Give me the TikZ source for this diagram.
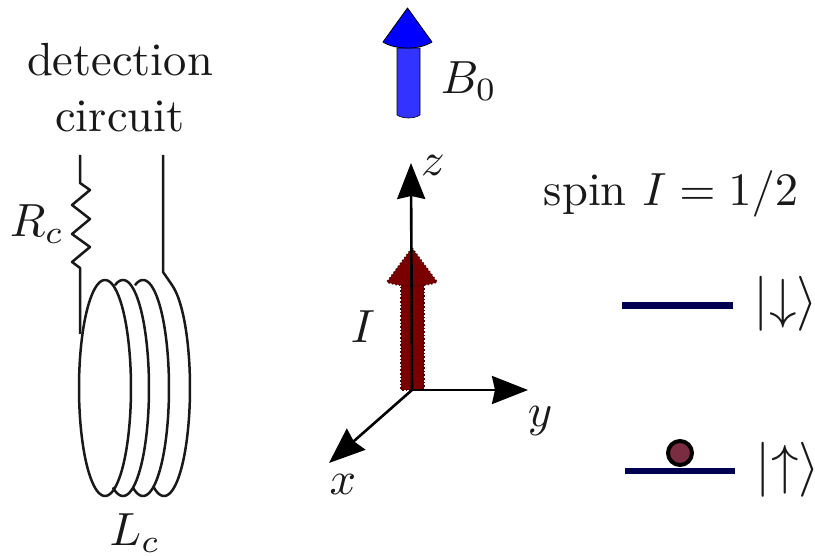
\documentclass[tikz,border=0pt]{standalone}
\usetikzlibrary{arrows.meta}
\definecolor{headblue}{RGB}{0,0,255}
\definecolor{shaftblue}{RGB}{51,51,255}
\definecolor{spinred}{RGB}{122,0,0}
\definecolor{levelnavy}{RGB}{0,0,80}
\definecolor{ballred}{RGB}{122,45,65}
\tikzset{
  lbl/.style={scale=4.65,inner sep=0pt,text=black!90},
  ket/.style={scale=5.5,inner sep=0pt,text=black!90},
  wire/.style={line width=2.5pt,black!90,line join=round},
  axis/.style={line width=2.6pt,black,-{Stealth[length=36pt,width=28pt,inset=3pt]}},
  level/.style={line width=6.5pt,levelnavy},
  spinarrow/.style={fill=spinred,draw=spinred!70!black,line width=1.6pt,dotted},
}
\begin{document}
\begin{tikzpicture}[x=1pt,y=-1pt]
\useasboundingbox (0,0) rectangle (815,556);
% labels
\node[lbl] (det) at (120,60) {detection};
\node[lbl] (cir) at (120,116) {circuit};
\node[lbl] (rc) at (37,224) {$R_c$};
\node[lbl] (lc) at (135,533) {$L_c$};
\node[lbl] (bz) at (469,81) {$B_0$};
\node[lbl] (zl) at (433,165) {$z$};
\node[lbl] (il) at (363,327) {$I$};
\node[lbl] (yl) at (540,421) {$y$};
\node[lbl] (xl) at (343,484) {$x$};
\node[lbl] (spin) at (671,194) {spin $I=1/2$};
\node[ket] (kd) at (786,304) {$|{\downarrow}\rangle$};
\node[ket] (ku) at (788,470) {$|{\uparrow}\rangle$};
% circuit
\coordinate (w1) at (80,155);
\coordinate (w2) at (163,155);
\draw[wire] (w1) -- (80,183) -- (90,190) -- (72,205) -- (90,219) -- (72,234) -- (90,247) -- (72,262) -- (80,268) -- (80,334);
\draw[wire] plot[domain=150:-210,samples=100,smooth] ({105+26*cos(\x)},{388-108*sin(\x)});
\draw[wire] plot[domain=108:-113,samples=70,smooth] ({123+26*cos(\x)},{388-108*sin(\x)});
\draw[wire] plot[domain=108:-113,samples=70,smooth] ({143+26*cos(\x)},{388-108*sin(\x)});
\draw[wire] (w2) -- (163,272) -- (172,285) -- plot[domain=70:-113,samples=60,smooth] ({164+26*cos(\x)},{388-108*sin(\x)});
% B0 arrow
\draw[fill=shaftblue,line width=.6pt] (397,48) -- (397,115) .. controls (403,119) and (414,119) .. (420,115) -- (420,48) -- cycle;
\draw[fill=headblue,line width=.8pt,line join=round] (407.5,8) -- (432,42) .. controls (420,50) and (395,50) .. (383,42) -- cycle;
% spin arrow
\draw[spinarrow] (401,283) -- (401,390) -- (424,390) -- (424,283) -- cycle;
\draw[spinarrow] (412,248) -- (437,282) .. controls (425,287) and (399,287) .. (387,282) -- cycle;
% axes
\coordinate (o) at (412,390);
\coordinate (zt) at (411,163);
\coordinate (yt) at (528,390);
\coordinate (xt) at (329,463);
\draw[axis] (o) -- (zt);
\draw[axis] (o) -- (yt);
\draw[axis] (o) -- (xt);
% levels
\coordinate (la) at (622,305.5);
\coordinate (lb) at (733,305.5);
\coordinate (lc1) at (625,471);
\coordinate (ld) at (735,471);
\draw[level] (la) -- (lb);
\draw[level] (lc1) -- (ld);
\node[circle,draw=black,fill=ballred,line width=4pt,minimum size=24pt,inner sep=0pt] (ball) at (680,453) {};
\end{tikzpicture}
\end{document}
